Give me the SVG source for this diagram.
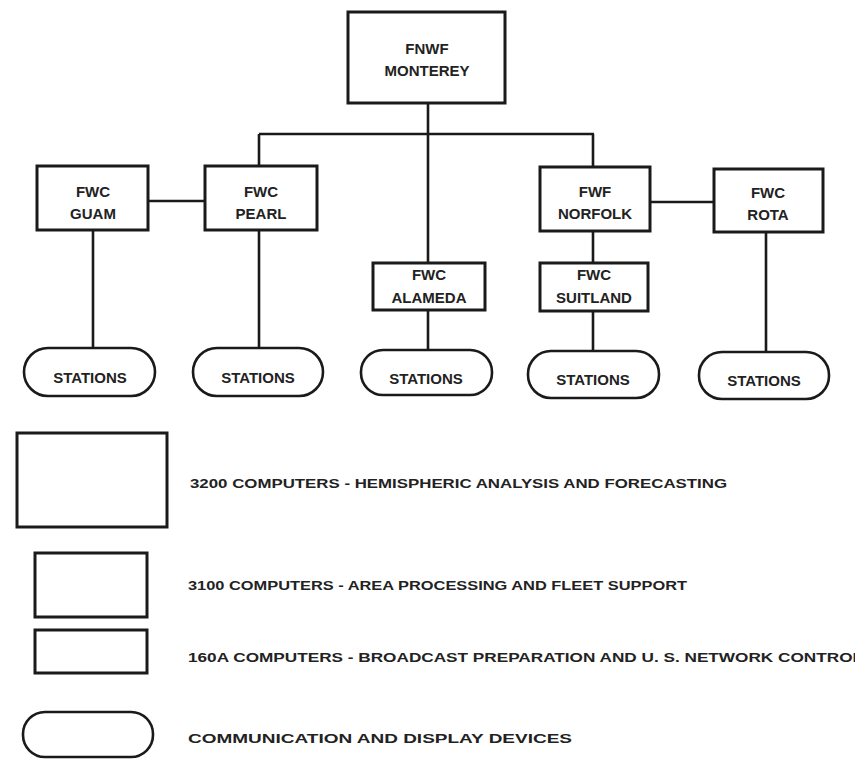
<svg xmlns="http://www.w3.org/2000/svg" width="855" height="759" viewBox="0 0 855 759">
<style>
.box{fill:#fff;stroke:#1a1a1a;stroke-width:3}
.st{fill:#fff;stroke:#1a1a1a;stroke-width:2.6}
.ln{stroke:#1a1a1a;stroke-width:2.6;fill:none}
text{font-family:"Liberation Sans","DejaVu Sans",sans-serif;font-size:15px;fill:#222;text-anchor:middle;font-weight:bold}
.lg{font-size:13px;text-anchor:start}
</style>
<rect width="855" height="759" fill="#fff"/>
<g id="connectors">
<path class="ln" d="M428 103V263M259 134H594M259 134V166M593 134V167M93 230V348M259 230V348M428 310V350M593 231V263M593 311V351M766 232V352M148 201H205M650 202H714"/>
</g>
<g id="monterey"><rect class="box" x="348" y="12" width="157" height="91"/><text x="427" y="54">FNWF</text><text x="427" y="76">MONTEREY</text></g>
<g id="guam"><rect class="box" x="37" y="166" width="111" height="64"/><text x="93" y="197">FWC</text><text x="93" y="219">GUAM</text></g>
<g id="pearl"><rect class="box" x="205" y="166" width="112" height="64"/><text x="261" y="197">FWC</text><text x="261" y="219">PEARL</text></g>
<g id="norfolk"><rect class="box" x="540" y="167" width="110" height="64"/><text x="595" y="197">FWF</text><text x="595" y="219">NORFOLK</text></g>
<g id="rota"><rect class="box" x="714" y="169" width="109" height="63"/><text x="768" y="198">FWC</text><text x="768" y="220">ROTA</text></g>
<g id="alameda"><rect class="box" x="373" y="263" width="112" height="47"/><text x="429" y="280">FWC</text><text x="429" y="303">ALAMEDA</text></g>
<g id="suitland"><rect class="box" x="540" y="263" width="108" height="48"/><text x="594" y="280">FWC</text><text x="594" y="303">SUITLAND</text></g>
<g id="st-guam"><rect class="st" x="24" y="348" width="131" height="48" rx="24"/><text x="90" y="383">STATIONS</text></g>
<g id="st-pearl"><rect class="st" x="193" y="348" width="130" height="48" rx="24"/><text x="258" y="383">STATIONS</text></g>
<g id="st-alameda"><rect class="st" x="361" y="350" width="131" height="45" rx="22"/><text x="426" y="384">STATIONS</text></g>
<g id="st-suitland"><rect class="st" x="528" y="351" width="131" height="47" rx="23"/><text x="593" y="385">STATIONS</text></g>
<g id="st-rota"><rect class="st" x="699" y="352" width="130" height="47" rx="23"/><text x="764" y="386">STATIONS</text></g>
<g id="legend">
<rect class="box" x="17" y="433" width="150" height="94"/>
<text class="lg" x="190" y="488" textLength="537" lengthAdjust="spacingAndGlyphs">3200 COMPUTERS - HEMISPHERIC ANALYSIS AND FORECASTING</text>
<rect class="box" x="35" y="553" width="112" height="64"/>
<text class="lg" x="188" y="590" textLength="499" lengthAdjust="spacingAndGlyphs">3100 COMPUTERS - AREA PROCESSING AND FLEET SUPPORT</text>
<rect class="box" x="35" y="630" width="112" height="43"/>
<text class="lg" x="188" y="662" textLength="675" lengthAdjust="spacingAndGlyphs">160A COMPUTERS - BROADCAST PREPARATION AND U. S. NETWORK CONTROL</text>
<rect class="st" x="23" y="712" width="130" height="45" rx="22"/>
<text class="lg" x="188" y="743" textLength="384" lengthAdjust="spacingAndGlyphs">COMMUNICATION AND DISPLAY DEVICES</text>
</g>
</svg>
